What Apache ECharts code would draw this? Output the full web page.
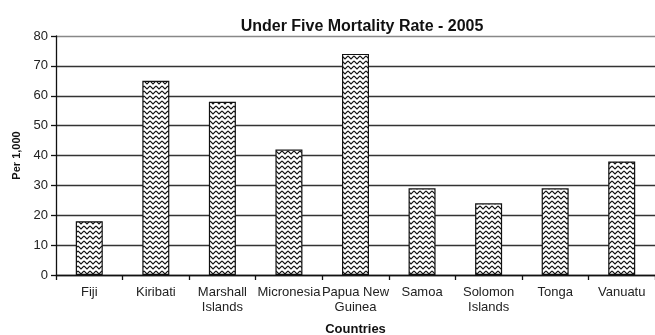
<!DOCTYPE html>
<html>
<head>
<meta charset="utf-8">
<title>Under Five Mortality Rate - 2005</title>
<script src="https://cdn.jsdelivr.net/npm/echarts@6/dist/echarts.min.js"></script>
<style>
  html, body { margin: 0; padding: 0; background: #fff; }
  #chart { width: 655px; height: 335px; }
</style>
</head>
<body>
<div id="chart"></div>
<script>
// Under-five mortality per 1,000 live births, Pacific countries, 2005
const countries = ['Fiji', 'Kiribati', 'Marshall Islands', 'Micronesia', 'Papua New Guinea', 'Samoa', 'Solomon Islands', 'Tonga', 'Vanuatu'];
const mortality = [18, 65, 58, 42, 74, 29, 24, 29, 38];
const yTicks = [0, 10, 20, 30, 40, 50, 60, 70, 80];

// Zigzag fill tile for the bars
function zigzagTile() {
  const c = document.createElement('canvas');
  c.width = 6; c.height = 5;
  const g = c.getContext('2d');
  g.fillStyle = '#fff';
  g.fillRect(0, 0, 6, 5);
  g.strokeStyle = '#111';
  g.lineWidth = 1.1;
  g.beginPath();
  g.moveTo(0, 1);
  g.lineTo(3, 4);
  g.lineTo(6, 1);
  g.stroke();
  return c;
}

// Two-line category labels
function wrapName(name) {
  return name.replace(' Islands', '\nIslands').replace(' Guinea', '\nGuinea');
}

const font = '"Liberation Sans", Arial, Helvetica, sans-serif';
const chart = echarts.init(document.getElementById('chart'), null, { renderer: 'canvas' });

chart.setOption({
  animation: false,
  backgroundColor: '#fff',
  textStyle: { fontFamily: font },
  title: {
    text: 'Under Five Mortality Rate - 2005',
    left: 357,
    textAlign: 'center',
    top: 14,
    textStyle: { fontFamily: font, fontSize: 16, fontWeight: 'bold', color: '#111' }
  },
  grid: { left: 56, right: 0, top: 36, bottom: 60, containLabel: false, outerBoundsMode: 'none' },
  xAxis: {
    type: 'category',
    data: countries,
    name: 'Countries',
    nameLocation: 'middle',
    nameGap: 48,
    nameTextStyle: { fontFamily: font, fontSize: 13, fontWeight: 'bold', color: '#111' },
    axisLine: { lineStyle: { color: '#111', width: 1.3 } },
    axisTick: { show: true, length: 5, lineStyle: { color: '#111', width: 1.3 } },
    axisLabel: {
      interval: 0,
      margin: 10,
      fontSize: 13,
      lineHeight: 15,
      color: '#222',
      formatter: wrapName
    }
  },
  yAxis: {
    type: 'value',
    min: yTicks[0],
    max: yTicks[yTicks.length - 1],
    interval: yTicks[1] - yTicks[0],
    name: 'Per 1,000',
    nameLocation: 'middle',
    nameGap: 24,
    nameRotate: 90,
    nameTextStyle: { fontFamily: font, fontSize: 11, fontWeight: 'bold', color: '#111' },
    axisLine: { show: true, lineStyle: { color: '#111', width: 1.3 } },
    axisTick: { show: true, length: 5, lineStyle: { color: '#111', width: 1.3 } },
    axisLabel: { fontSize: 13, margin: 8, color: '#222' },
    splitLine: {
      show: true,
      lineStyle: { color: ['#333', '#333', '#333', '#333', '#333', '#333', '#333', '#333', '#888'], width: 1.3 }
    }
  },
  series: [{
    type: 'bar',
    data: mortality,
    barWidth: 27,
    itemStyle: {
      color: { image: zigzagTile(), repeat: 'repeat' },
      borderColor: '#111',
      borderWidth: 1.2
    }
  }]
});
</script>
</body>
</html>
